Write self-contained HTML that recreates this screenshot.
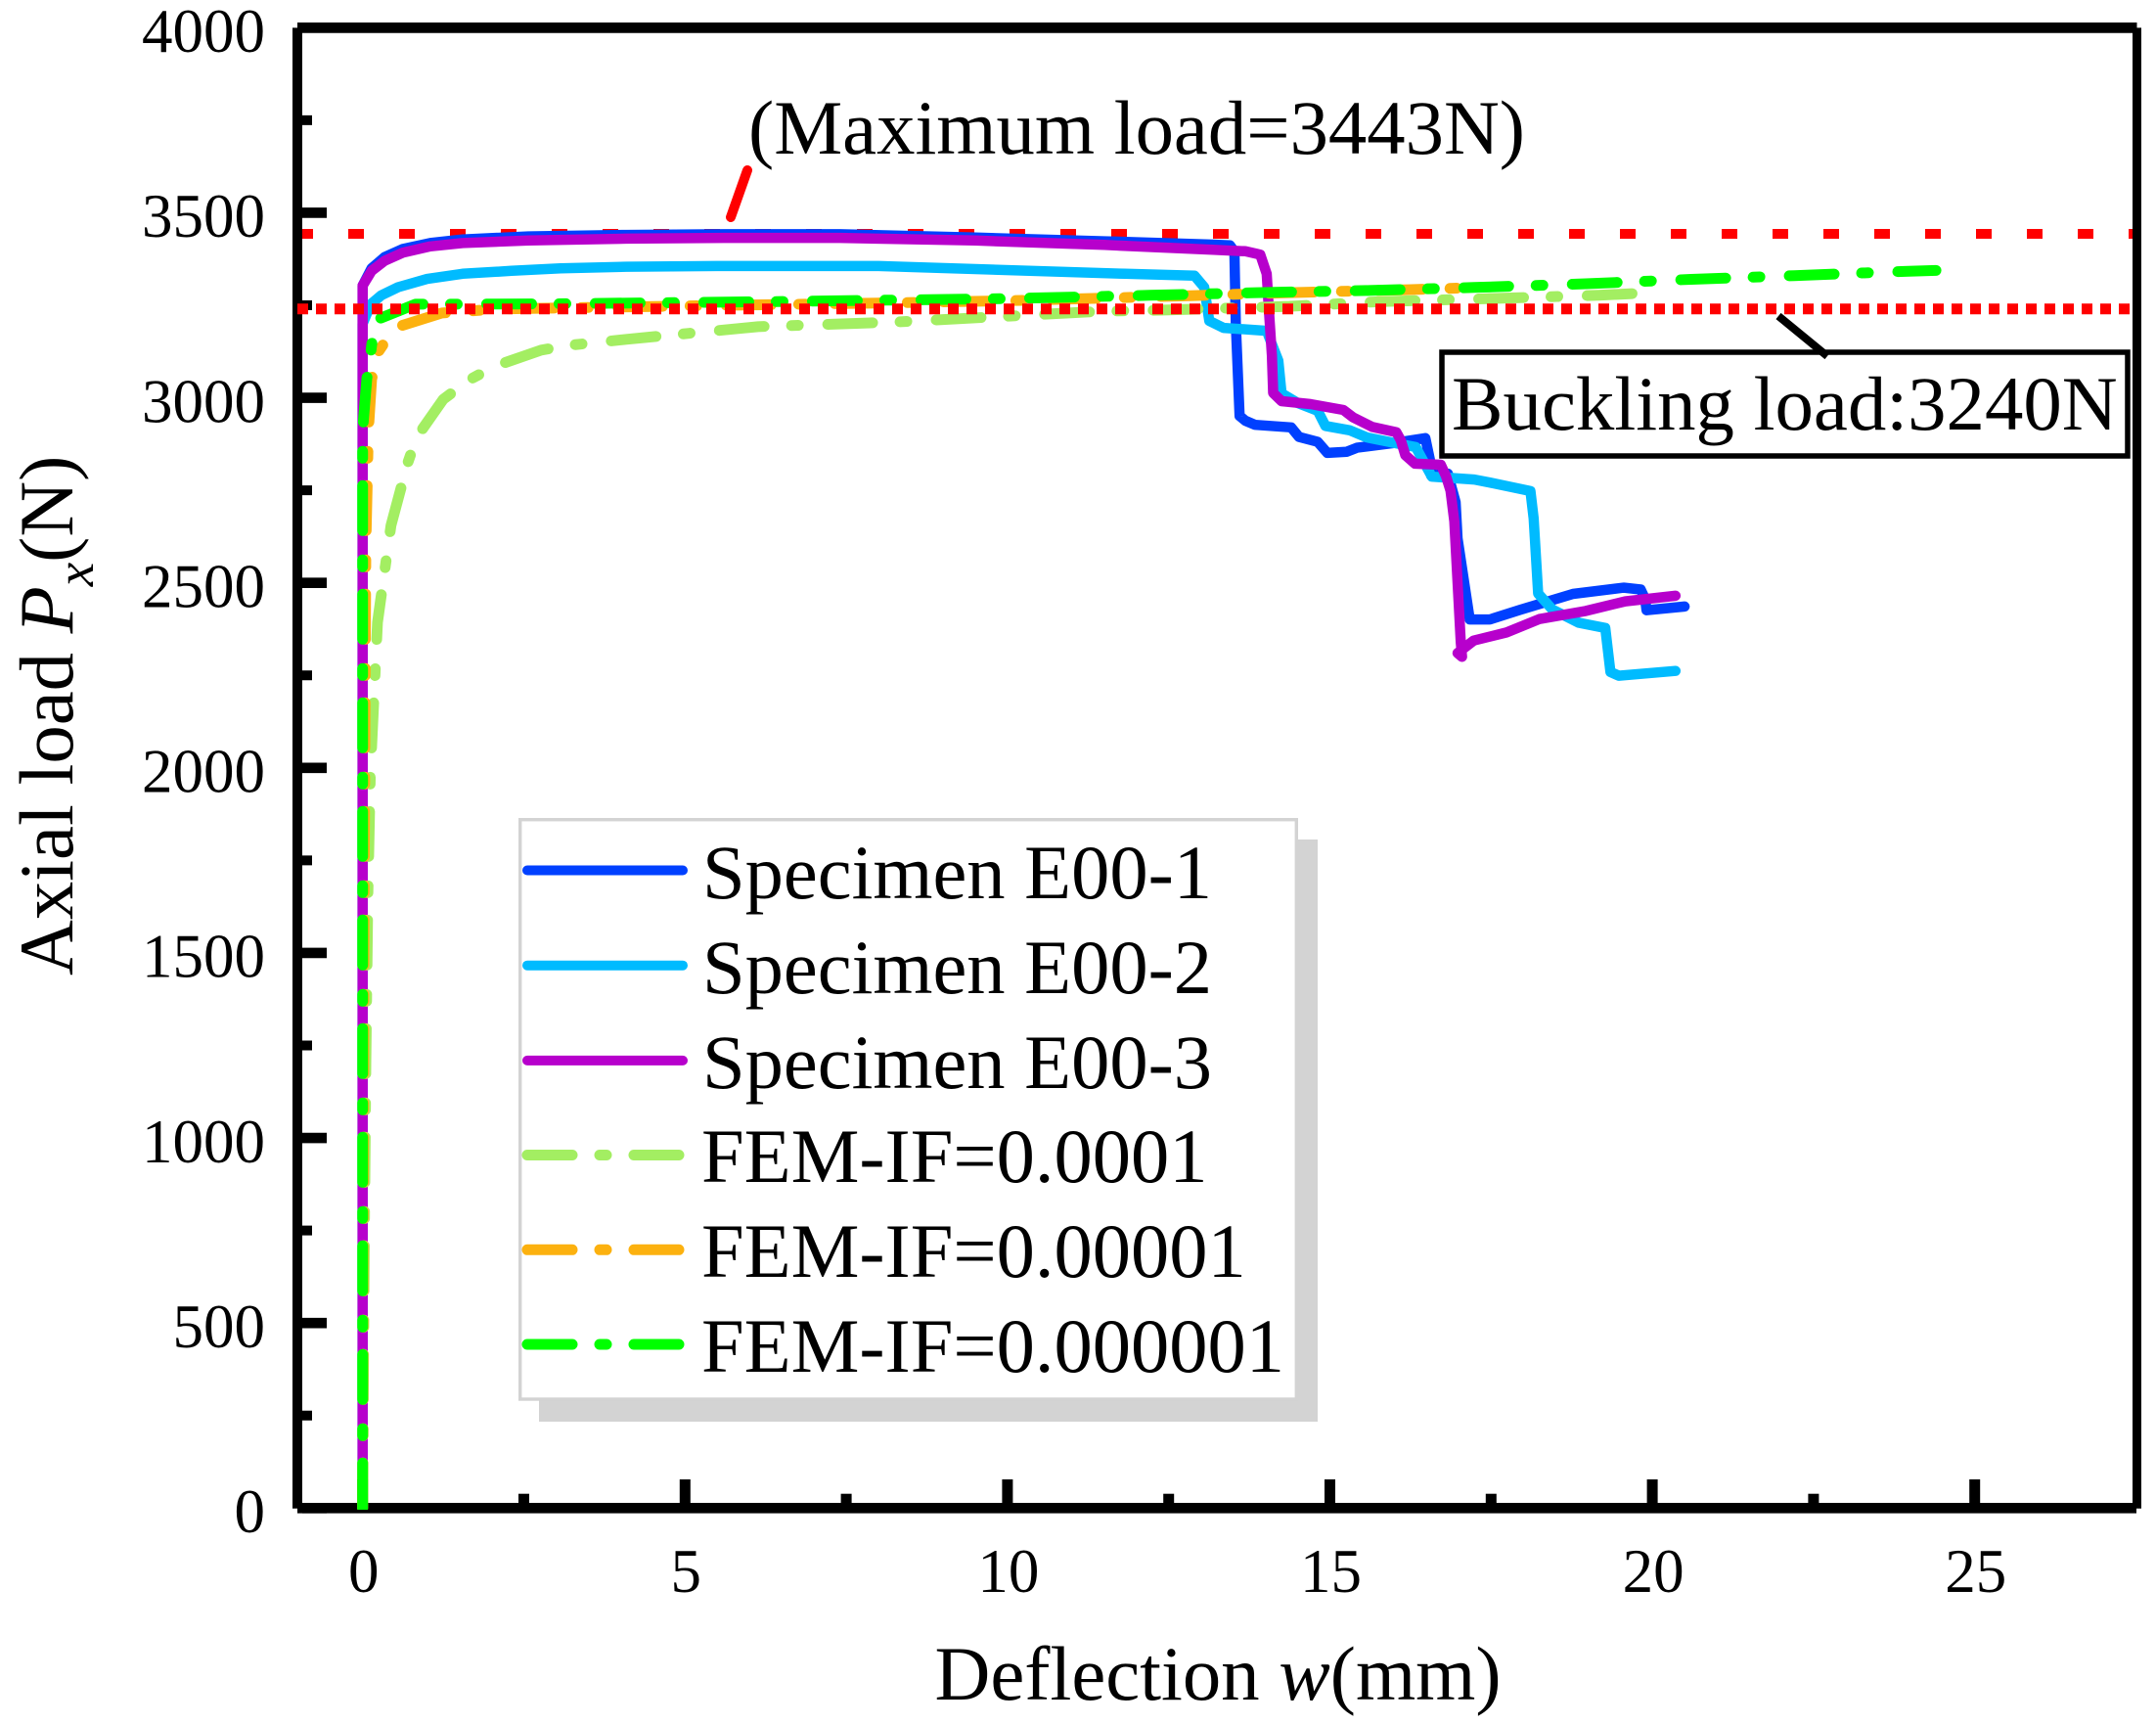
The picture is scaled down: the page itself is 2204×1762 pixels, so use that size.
<!DOCTYPE html>
<html>
<head>
<meta charset="utf-8">
<title>Axial load vs deflection</title>
<style>
html,body{margin:0;padding:0;background:#fff;}
svg{display:block;}
text{font-family:"Liberation Serif",serif;fill:#000;}
</style>
</head>
<body>
<svg id="chart" xmlns="http://www.w3.org/2000/svg" width="2204" height="1762" viewBox="0 0 2204 1762">
<defs><clipPath id="plot-clip"><rect x="0" y="0" width="2204" height="1543"/></clipPath></defs>
<rect x="0" y="0" width="2204" height="1762" fill="#fff"/>
<g id="under"></g>
<g id="axes"></g>
<g id="curves" clip-path="url(#plot-clip)"></g>
<g id="over"></g>
<g id="tick-labels" font-size="63"></g>

<text x="955.5" y="1737" font-size="78.7">Deflection <tspan font-style="italic">w</tspan>(mm)</text>
<text transform="translate(74,997) rotate(-90)" font-size="78.7">Axial load <tspan font-style="italic">P</tspan><tspan font-style="italic" font-size="55" dy="21">x</tspan><tspan dy="-21">(N)</tspan></text>

<line x1="764" y1="174" x2="747" y2="222" stroke="#ff0000" stroke-width="10" stroke-linecap="round"/>
<text x="765" y="157" font-size="78.7">(Maximum load=3443N)</text>

<rect x="1474" y="360" width="701" height="106" fill="#fff" stroke="#000" stroke-width="5.5"/>
<line x1="1818" y1="323" x2="1868" y2="364" stroke="#000" stroke-width="8"/>
<text x="1484" y="439" font-size="78.8">Buckling load:3240N</text>

<g>
<rect x="551" y="858" width="796" height="595" fill="#d3d3d3"/>
<rect x="531.7" y="837.7" width="793.6" height="592.3" fill="#fff" stroke="#d3d3d3" stroke-width="3.4"/>
<g><line x1="539" y1="889.5" x2="698" y2="889.5" stroke="#0040ff" stroke-width="10" stroke-linecap="round"/><text x="718" y="918" font-size="78.5">Specimen E00-1</text></g>
<g><line x1="539" y1="986.7" x2="698" y2="986.7" stroke="#00bbff" stroke-width="10" stroke-linecap="round"/><text x="718" y="1015" font-size="78.5">Specimen E00-2</text></g>
<g><line x1="539" y1="1083.9" x2="698" y2="1083.9" stroke="#b700cc" stroke-width="10" stroke-linecap="round"/><text x="718" y="1112" font-size="78.5">Specimen E00-3</text></g>
<g><line x1="539" y1="1180.5" x2="698" y2="1180.5" stroke="#a3ee62" stroke-width="11" stroke-linecap="round" stroke-dasharray="46 28 7 28"/><text x="717" y="1208" font-size="78.5">FEM-IF=0.0001</text></g>
<g><line x1="539" y1="1277.3" x2="698" y2="1277.3" stroke="#fcb10f" stroke-width="11" stroke-linecap="round" stroke-dasharray="46 28 7 28"/><text x="717" y="1305" font-size="78.5">FEM-IF=0.00001</text></g>
<g><line x1="539" y1="1374" x2="698" y2="1374" stroke="#00ff00" stroke-width="11" stroke-linecap="round" stroke-dasharray="46 28 7 28"/><text x="717" y="1402" font-size="78.5">FEM-IF=0.000001</text></g>
</g>
</svg>
<script>
const xMajorTicks = [0, 5, 10, 15, 20, 25];
const xMinorTicks = [2.5, 7.5, 12.5, 17.5, 22.5];
const yMajorTicks = [0, 500, 1000, 1500, 2000, 2500, 3000, 3500];
const yMinorTicks = [250, 750, 1250, 1750, 2250, 2750, 3250, 3750];
const yTopLabel = 4000;
const maximumLoad = 3443;
const bucklingLoad = 3240;

const e1Deflection = [0,0,.14,.34,.62,1.05,1.55,2.57,4.09,5.6,7.4,9.5,11.5,13.19,13.45,13.52,13.54,13.6,13.69,13.84,14.40,14.52,14.81,14.96,15.26,15.42,15.96,16.48,16.55,16.57,16.83,16.95,16.98,17.17,17.48,17.95,18.77,19.56,19.82,19.89,19.91,20.5];
const e1Load = [0,3303,3350,3380,3402,3418,3428,3436,3440,3442,3442,3433,3423,3414,3412,3395,3202,2951,2938,2927,2920,2894,2881,2851,2854,2865,2877,2891,2833,2790,2795,2718,2620,2401,2401,2427,2470,2487,2482,2456,2426,2436];

const e2Deflection = [0,0,.07,.14,.29,.55,1.0,1.55,2.31,3.07,4.09,5.5,8,11.82,12.9,13.05,13.13,13.35,14.02,14.2,14.25,14.5,14.81,14.93,15.31,15.57,16.03,16.33,16.58,17.24,17.48,18.11,18.16,18.23,18.45,18.86,19.27,19.35,19.48,20.36];
const e2Load = [0,3200,3229,3255,3277,3299,3321,3335,3343,3350,3354,3356,3356,3335,3330,3299,3208,3189,3181,3100,3012,2986,2965,2924,2912,2893,2877,2867,2787,2779,2771,2748,2674,2471,2428,2392,2378,2259,2249,2262];

const e3Deflection = [0,0,.14,.34,.62,1.05,1.55,2.57,4.09,5.6,7.4,9.5,11.5,13.19,13.69,13.92,14.02,14.05,14.10,14.12,14.25,14.70,15.21,15.36,15.66,16.03,16.10,16.17,16.32,16.72,16.80,16.87,16.93,17.03,17.05,16.98,17.23,17.74,18.25,18.97,19.58,20.36];
const e3Load = [0,3303,3343,3370,3392,3409,3418,3425,3430,3432,3432,3425,3413,3400,3396,3387,3335,3247,3115,3013,2991,2983,2967,2947,2921,2907,2885,2845,2822,2819,2788,2749,2666,2339,2300,2310,2344,2366,2402,2424,2450,2465];

const if4Deflection = [0,.01,.03,.05,.08,.12,.23,.44,.7,.84,1.25,1.66,2.06,2.77,3.22,4.09,6.13,8.3,11.5,12.43,14.37,15.8,17.44,19.17,19.99];
const if4Load = [0,300,800,1200,1647,1984,2393,2655,2824,2894,2996,3049,3086,3129,3142,3158,3192,3205,3234,3237,3247,3260,3268,3277,3284];

const if5Deflection = [0,.02,.05,.09,.14,.24,.49,1.23,2.1,5,8,10,12.84,14.37,16.2,17.1];
const if5Load = [0,1500,2600,2912,3050,3123,3189,3229,3240,3248,3256,3262,3276,3284,3292,3297];

const if6Deflection = [0,0,.065,.126,.19,.82,1.3,3,6.4,10,12.2,13.86,15.6,17.24,18.97,20.6,22.2,23.97,24.4];
const if6Load = [0,2912,3052,3122,3209,3253,3253,3254,3260,3268,3277,3284,3290,3298,3308,3320,3330,3342,3344];

const NS = 'http://www.w3.org/2000/svg';
function xScale(w) { return 370.7 + 65.92 * w; }
function yScale(p) { return 1541.3 - 0.37825 * p; }

function drawLine(parent, x1, y1, x2, y2, width, color, name, dash) {
  const el = document.createElementNS(NS, 'line');
  el.setAttribute('x1', x1);
  el.setAttribute('y1', y1);
  el.setAttribute('x2', x2);
  el.setAttribute('y2', y2);
  el.setAttribute('stroke', color);
  el.setAttribute('stroke-width', width);
  if (dash) el.setAttribute('stroke-dasharray', dash);
  
  
  parent.appendChild(el);
}

function drawLabel(parent, x, y, anchor, value, name) {
  const el = document.createElementNS(NS, 'text');
  el.setAttribute('x', x);
  el.setAttribute('y', y);
  el.setAttribute('text-anchor', anchor);
  el.textContent = value;
  
  
  parent.appendChild(el);
}

function drawCurve(xs, ys, color, name, dash) {
  const el = document.createElementNS(NS, 'polyline');
  el.setAttribute('points', xs.map(function (w, i) { return xScale(w).toFixed(1) + ',' + yScale(ys[i]).toFixed(1); }).join(' '));
  el.setAttribute('fill', 'none');
  el.setAttribute('stroke', color);
  el.setAttribute('stroke-width', dash ? 11 : 10.5);
  el.setAttribute('stroke-linejoin', 'round');
  el.setAttribute('stroke-linecap', 'round');
  if (dash) el.setAttribute('stroke-dasharray', dash);
  
  
  document.getElementById('curves').appendChild(el);
}

const under = document.getElementById('under');
const over = document.getElementById('over');
const axes = document.getElementById('axes');
const labels = document.getElementById('tick-labels');

drawLine(under, 304, yScale(maximumLoad), 2180, yScale(maximumLoad), 10, '#ff0000', 'maximum-load-line', '16 36');

drawLine(axes, 304, 28.4, 2184.5, 28.4, 10.7, '#000', 'axis-top');
drawLine(axes, 304, 28.4, 304, 1541.7, 10, '#000', 'axis-left');
drawLine(axes, 2184.5, 28.4, 2184.5, 1541.7, 9, '#000', 'axis-right');
drawLine(axes, 304, 1541.3, 2184, 1541.3, 10.7, '#000', 'axis-bottom');

xMajorTicks.forEach(function (v) {
  drawLine(axes, xScale(v), 1512, xScale(v), 1536, 11, '#000', 'x-major-tick');
  drawLabel(labels, xScale(v) + 1, 1627, 'middle', String(v), 'x-tick-label');
});
xMinorTicks.forEach(function (v) {
  drawLine(axes, xScale(v), 1526.7, xScale(v), 1536, 11, '#000', 'x-minor-tick');
});
yMajorTicks.forEach(function (v) {
  drawLine(axes, 309, yScale(v), 334, yScale(v), 10.7, '#000', 'y-major-tick');
});
yMajorTicks.concat([yTopLabel]).forEach(function (v) {
  drawLabel(labels, 271, yScale(v) + 24.7, 'end', String(v), 'y-tick-label');
});
yMinorTicks.forEach(function (v) {
  drawLine(axes, 309, yScale(v), 319, yScale(v), 10, '#000', 'y-minor-tick');
});

const femDash = '46 28 7 30';
drawCurve(e1Deflection, e1Load, '#0040ff', 'curve-specimen-e00-1');
drawCurve(e2Deflection, e2Load, '#00bbff', 'curve-specimen-e00-2');
drawCurve(e3Deflection, e3Load, '#b700cc', 'curve-specimen-e00-3');
drawCurve(if4Deflection, if4Load, '#a3ee62', 'curve-fem-if-0001', femDash);
drawCurve(if5Deflection, if5Load, '#fcb10f', 'curve-fem-if-00001', femDash);
drawCurve(if6Deflection, if6Load, '#00ff00', 'curve-fem-if-000001', femDash);

drawLine(over, 304, yScale(bucklingLoad), 2180, yScale(bucklingLoad), 11, '#ff0000', 'buckling-load-line', '11 8');
</script>
</body>
</html>
